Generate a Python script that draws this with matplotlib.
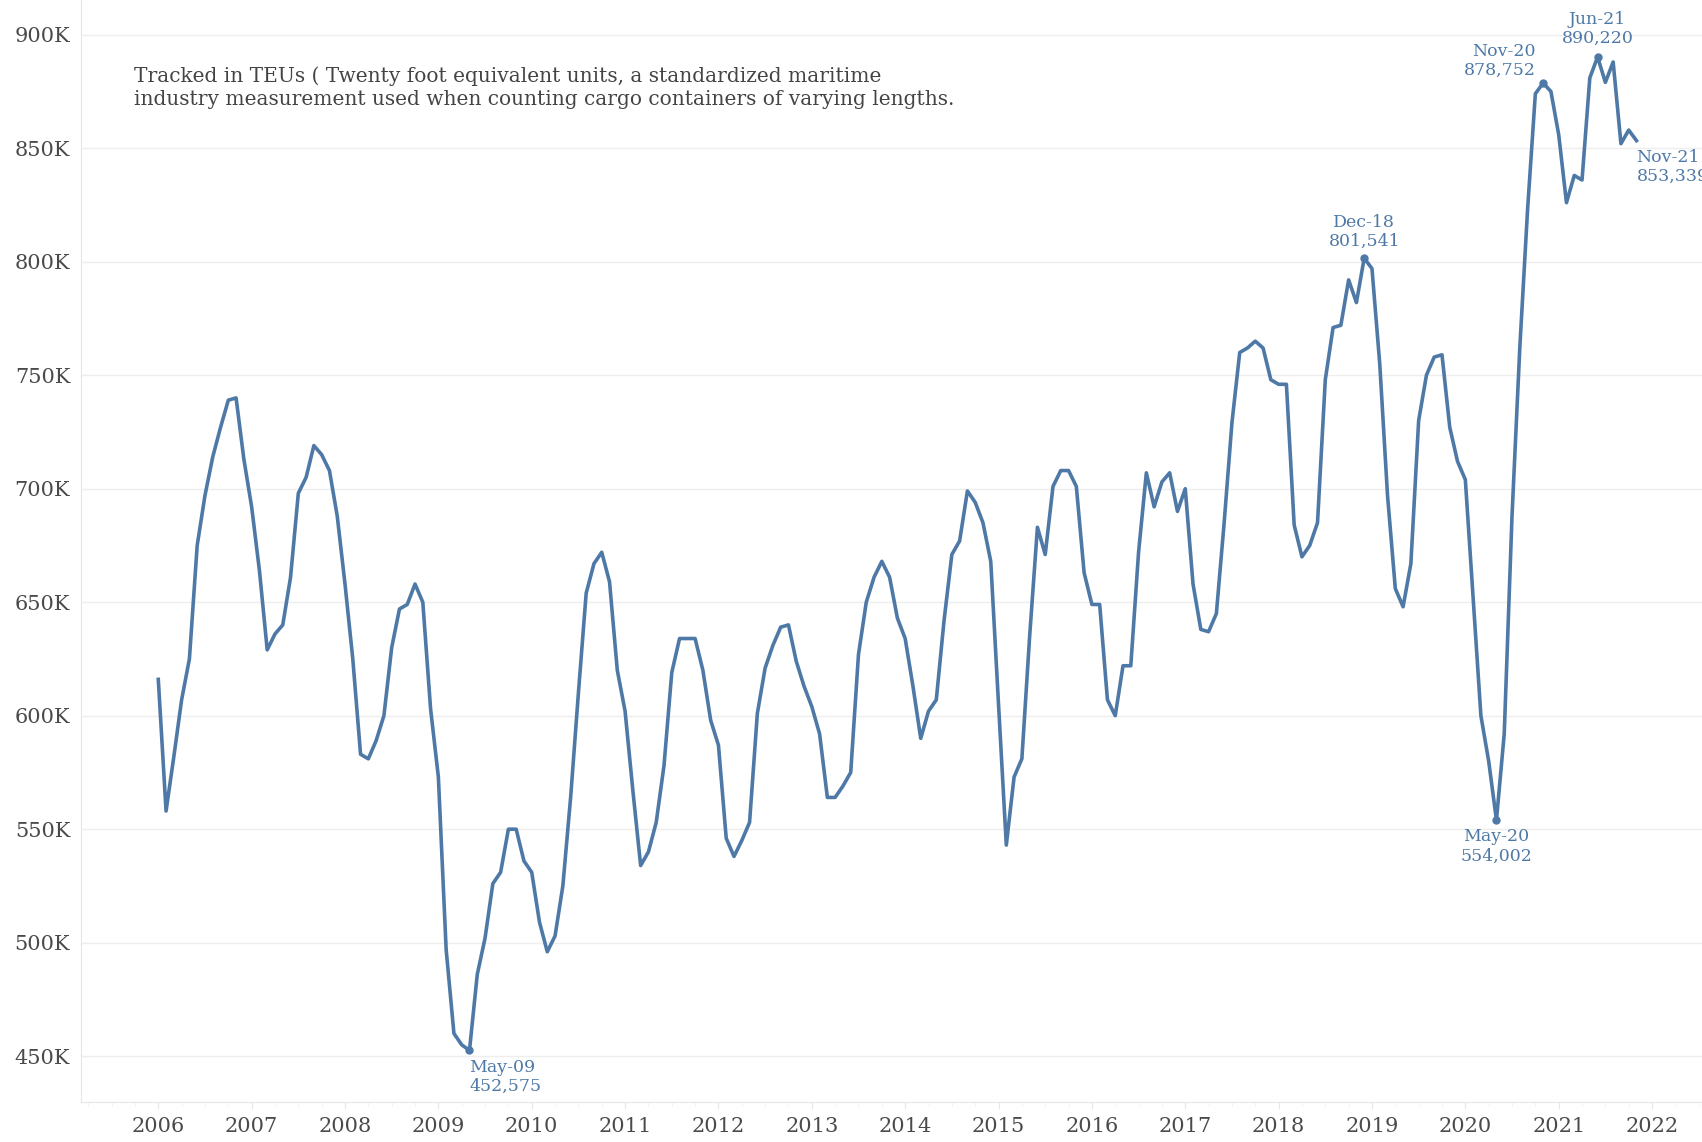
import numpy as np
import matplotlib.pyplot as plt
import matplotlib.ticker as mticker

# Monthly container volume (TEUs), Jan 2006 .. Nov 2021
teu_2006 = [616000, 558000, 582000, 607000, 625000, 675000, 697000, 714000, 727000, 739000, 740000, 713000]
teu_2007 = [692000, 664000, 629000, 636000, 640000, 661000, 698000, 705000, 719000, 715000, 708000, 688000]
teu_2008 = [658000, 625000, 583000, 581000, 589000, 600000, 630000, 647000, 649000, 658000, 650000, 603000]
teu_2009 = [573000, 497000, 460000, 455000, 452575, 486000, 502000, 526000, 531000, 550000, 550000, 536000]
teu_2010 = [531000, 509000, 496000, 503000, 525000, 564000, 610000, 654000, 667000, 672000, 659000, 620000]
teu_2011 = [602000, 567000, 534000, 540000, 553000, 578000, 619000, 634000, 634000, 634000, 620000, 598000]
teu_2012 = [587000, 546000, 538000, 545000, 553000, 601000, 621000, 631000, 639000, 640000, 624000, 613000]
teu_2013 = [604000, 592000, 564000, 564000, 569000, 575000, 627000, 650000, 661000, 668000, 661000, 643000]
teu_2014 = [634000, 613000, 590000, 602000, 607000, 642000, 671000, 677000, 699000, 694000, 685000, 668000]
teu_2015 = [605000, 543000, 573000, 581000, 635000, 683000, 671000, 701000, 708000, 708000, 701000, 663000]
teu_2016 = [649000, 649000, 607000, 600000, 622000, 622000, 672000, 707000, 692000, 703000, 707000, 690000]
teu_2017 = [700000, 658000, 638000, 637000, 645000, 685000, 729000, 760000, 762000, 765000, 762000, 748000]
teu_2018 = [746000, 746000, 684000, 670000, 675000, 685000, 748000, 771000, 772000, 792000, 782000, 801541]
teu_2019 = [797000, 755000, 697000, 656000, 648000, 667000, 730000, 750000, 758000, 759000, 727000, 712000]
teu_2020 = [704000, 652000, 600000, 580000, 554002, 592000, 688000, 762000, 823000, 874000, 878752, 875000]
teu_2021 = [856000, 826000, 838000, 836000, 881000, 890220, 879000, 888000, 852000, 858000, 853339]

teu = (teu_2006 + teu_2007 + teu_2008 + teu_2009 + teu_2010 + teu_2011 + teu_2012 + teu_2013
       + teu_2014 + teu_2015 + teu_2016 + teu_2017 + teu_2018 + teu_2019 + teu_2020 + teu_2021)
teu = np.array(teu)
month_pos = 2006 + np.arange(len(teu)) / 12

year_ticks = list(range(2006, 2023))
y_ticks = [450000, 500000, 550000, 600000, 650000, 700000, 750000, 800000, 850000, 900000]

# labelled points: (month index, label)
marks = [(40, 'May-09'), (155, 'Dec-18'), (172, 'May-20'), (178, 'Nov-20'), (185, 'Jun-21'), (190, 'Nov-21')]

note = ("Tracked in TEUs ( Twenty foot equivalent units, a standardized maritime\n"
        "industry measurement used when counting cargo containers of varying lengths.")

line_color = '#4e79a7'
txt_color = '#4a4a4a'
font = 'DejaVu Serif'

fig = plt.figure(figsize=(17.02, 11.42), dpi=100)
ax = fig.add_axes([0.0478, 0.035, 0.9522, 0.965])

ax.plot(month_pos, teu, color=line_color, lw=2.6, solid_joinstyle='round', zorder=3)

ax.set_xlim(2005.176, 2022.535)
ax.set_ylim(429800, 915300)

ax.set_yticks(y_ticks)
ax.yaxis.set_major_formatter(mticker.FuncFormatter(lambda v, p: f'{v/1000:.0f}K'))
ax.set_xticks(year_ticks)
ax.set_xticklabels([str(y) for y in year_ticks])
ax.xaxis.set_minor_locator(mticker.MultipleLocator(0.25))

ax.grid(axis='y', color='#eeeeee', lw=1)
ax.set_axisbelow(True)
for s in ['top', 'right']:
    ax.spines[s].set_visible(False)
ax.spines['left'].set_color('#e6e6e6')
ax.spines['bottom'].set_color('#e6e6e6')
ax.tick_params(axis='y', length=0, pad=8, labelsize=15, labelcolor=txt_color)
ax.tick_params(axis='x', which='major', length=5, color='#e6e6e6', pad=6, labelsize=15, labelcolor=txt_color)
ax.tick_params(axis='x', which='minor', length=3, color='#eeeeee')
for lab in ax.get_xticklabels() + ax.get_yticklabels():
    lab.set_family(font)

# annotation offsets (points) and alignment per label
offsets = {
    'May-09': ((0, -6), 'left', 'top'),
    'Dec-18': ((0, 6), 'center', 'bottom'),
    'May-20': ((0, -6), 'center', 'top'),
    'Nov-20': ((-5, 3), 'right', 'bottom'),
    'Jun-21': ((0, 7), 'center', 'bottom'),
    'Nov-21': ((0, -6), 'left', 'top'),
}
for idx, name in marks:
    xv, yv = month_pos[idx], teu[idx]
    if name != 'Nov-21':
        ax.plot(xv, yv, 'o', color=line_color, ms=5, zorder=4)
    off, ha, va = offsets[name]
    ax.annotate(f'{name}\n{teu[idx]:,}', (xv, yv), xytext=off, textcoords='offset points',
                ha=ha, va=va, color=line_color, fontsize=12.5, family=font,
                linespacing=1.15, annotation_clip=False)

fig.text(0.079, 0.942, note, ha='left', va='top', fontsize=14.5, color='#444444',
         family=font, linespacing=1.3)

fig.savefig('out.png', dpi=100, facecolor='white')
